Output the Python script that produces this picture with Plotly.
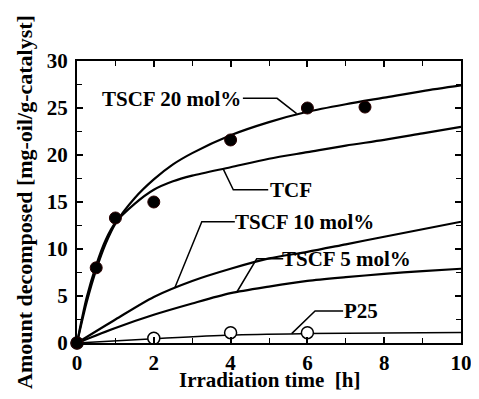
import plotly.graph_objects as go

# ---- data ----
curve_t = [0, 0.25, 0.5, 0.75, 1, 1.5, 2, 2.5, 3, 4, 5, 6, 7, 8, 9, 10]
tscf20_fit = [0, 4.3, 7.8, 10.6, 12.7, 15.4, 17.4, 19.0, 20.2, 22.1, 23.5, 24.6, 25.4, 26.1, 26.8, 27.4]
tcf_fit = [0, 4.8, 8.3, 11.0, 12.8, 14.8, 16.3, 17.2, 17.8, 18.7, 19.6, 20.3, 21.0, 21.6, 22.3, 23.0]

fit_t2 = [0, 1, 2, 3, 4, 5, 6, 7, 8, 9, 10]
tscf10_fit = [0, 2.5, 4.9, 6.6, 7.9, 9.0, 9.7, 10.5, 11.3, 12.1, 12.9]
tscf5_fit = [0, 1.6, 3.0, 4.2, 5.3, 6.0, 6.6, 7.0, 7.35, 7.65, 7.9]

p25_line_t = [0, 2, 4, 6, 8, 10]
p25_line = [0, 0.45, 0.85, 1.0, 1.07, 1.12]

tscf20_t = [0, 0.5, 1, 2, 4, 6, 7.5]
tscf20_y = [0, 8.0, 13.3, 15.0, 21.6, 25.0, 25.1]

p25_t = [0, 2, 4, 6]
p25_y = [0, 0.5, 1.1, 1.1]

x_ticks = [0, 2, 4, 6, 8, 10]
y_ticks = [0, 5, 10, 15, 20, 25, 30]

# labels with leader lines (data coords): text, text anchor point, leader polyline
labels = [
    ("TSCF 20 mol%", 4.29, 26.0, "right", [4.32, 5.21, 5.72], [26.03, 26.03, 24.4]),
    ("TCF", 5.0, 16.3, "left", [3.81, 4.07, 4.98], [18.5, 16.3, 16.3]),
    ("TSCF 10 mol%", 4.1, 12.9, "left", [2.55, 3.25, 4.11], [5.9, 12.9, 12.9]),
    ("TSCF 5 mol%", 5.3, 8.95, "left", [4.16, 4.68, 5.37], [5.4, 8.95, 8.95]),
    ("P25", 6.93, 3.4, "left", [5.59, 6.2, 6.93], [1.0, 3.4, 3.4]),
]

FONT = "serif"

fig = go.Figure()

for yy, tt in [(tscf20_fit, curve_t), (tcf_fit, curve_t), (tscf10_fit, fit_t2), (tscf5_fit, fit_t2)]:
    fig.add_trace(go.Scatter(x=tt, y=yy, mode="lines", line=dict(color="black", width=2.2, shape="spline", smoothing=0.8),
                             hoverinfo="skip", showlegend=False))
fig.add_trace(go.Scatter(x=p25_line_t, y=p25_line, mode="lines", line=dict(color="black", width=1.5, shape="spline", smoothing=0.8),
                         showlegend=False))

for text, tx, ty, anchor, lx, ly in labels:
    fig.add_trace(go.Scatter(x=lx, y=ly, mode="lines", line=dict(color="black", width=1.5), showlegend=False))
    fig.add_annotation(x=tx, y=ty, text="<b>" + text + "</b>", showarrow=False, xanchor=anchor, yanchor="middle",
                       font=dict(family=FONT, size=21, color="black"), borderpad=0)

fig.add_trace(go.Scatter(x=p25_t, y=p25_y, mode="markers",
                         marker=dict(symbol="circle", size=12, color="white", line=dict(color="black", width=1.5)),
                         cliponaxis=False, showlegend=False))
fig.add_trace(go.Scatter(x=tscf20_t, y=tscf20_y, mode="markers",
                         marker=dict(symbol="circle", size=12, color="black", line=dict(color="#2a0000", width=1)),
                         cliponaxis=False, showlegend=False))

axis_common = dict(
    showline=True, linecolor="black", linewidth=2, mirror="allticks",
    ticks="inside", ticklen=6, tickwidth=1.5, tickcolor="black",
    showgrid=False, zeroline=False, automargin=False,
    tickfont=dict(family=FONT, size=21, color="black"),
)

fig.update_xaxes(range=[0, 10], tickvals=x_ticks, ticktext=["<b>%d</b>" % v for v in x_ticks],
                 minor=dict(dtick=1, tick0=0, ticks="inside", ticklen=5, tickwidth=1.2, tickcolor="black"),
                 **axis_common)
fig.update_yaxes(range=[0, 30], tickvals=y_ticks, ticktext=["<b>%d</b>" % v for v in y_ticks],
                 minor=dict(dtick=2.5, tick0=0, ticks="inside", ticklen=5, tickwidth=1.2, tickcolor="black"),
                 ticklabelstandoff=3,
                 **axis_common)

fig.add_annotation(xref="paper", yref="paper", x=0.5, y=-0.13, text="<b>Irradiation time\u00a0 [h]</b>",
                   showarrow=False, xanchor="center", yanchor="middle",
                   font=dict(family=FONT, size=21, color="black"))
fig.add_annotation(xref="paper", yref="paper", x=-0.138, y=0.5, text="<b>Amount decomposed [mg-oil/g-catalyst]</b>",
                   showarrow=False, xanchor="center", yanchor="middle", textangle=-90,
                   font=dict(family=FONT, size=22, color="black"))

fig.update_layout(
    template="none",
    width=471, height=391,
    margin=dict(l=69, r=18, t=53, b=56),
    plot_bgcolor="white", paper_bgcolor="white",
    showlegend=False,
)

fig.write_html("out.html")
